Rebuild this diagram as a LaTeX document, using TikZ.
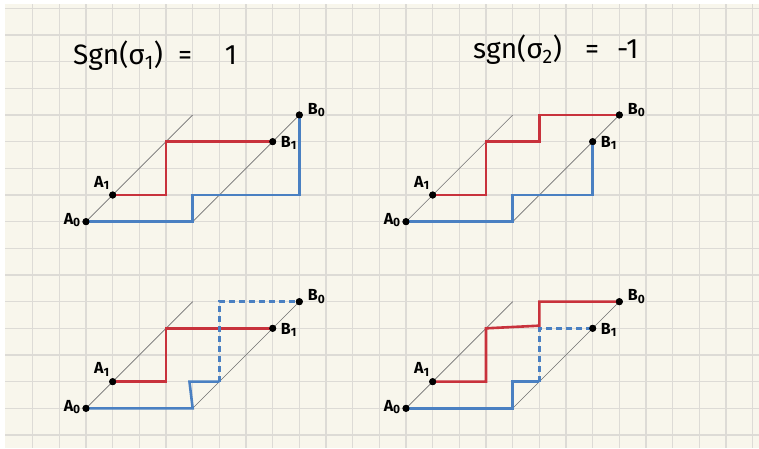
\documentclass[tikz,border=0pt]{standalone}
\usepackage{fontspec}
\setmainfont{Fira Sans}
\definecolor{paper}{HTML}{F8F6EC}
\definecolor{gridc}{HTML}{DDDBD6}
\definecolor{pathred}{HTML}{C8323C}
\definecolor{pathblue}{HTML}{4A80C2}
\definecolor{diag}{HTML}{707070}
\newcommand{\sublab}[1]{\raisebox{-2.5pt}{\fontsize{12}{12}\selectfont #1}}
\tikzset{
  gridline/.style={gridc, line width=1.5pt},
  diagline/.style={diag, line width=0.6pt},
  redpath/.style={pathred, line width=2.6pt, line join=miter},
  bluepath/.style={pathblue, line width=2.6pt, line join=miter},
  bluedash/.style={pathblue, line width=2.4pt, dash pattern=on 6pt off 4pt},
  dotnode/.style={circle, fill=black, inner sep=0pt, minimum size=7pt},
  lab/.style={font=\fontsize{16}{18}\selectfont\bfseries, inner sep=0pt},
  titletext/.style={font=\fontsize{28}{32}\selectfont, inner sep=0pt, anchor=base west}
}
\begin{document}
\begin{tikzpicture}[x=26.667pt,y=-26.667pt]
\useasboundingbox (-0.225,-0.3125) rectangle (28.2375,16.4875);
\fill[paper] (-0.225,-0.3125) rectangle (28.2375,16.4875);
\foreach \i in {1,...,28} \draw[gridline] (\i,-0.3125) -- (\i,16.4875);
\foreach \j in {0,...,16} \draw[gridline] (-0.225,\j) -- (28.2375,\j);
\fill[white] (-0.225,-0.3125) rectangle (28.2375,-0.17);
\fill[white] (-0.225,-0.3125) rectangle (-0.02,16.4875);

% titles
\node[titletext] (t1a) at (2.51,2.125) {Sgn(σ\textsubscript{1})};
\node[titletext] (t1b) at (6.45,2.125) {=};
\node[titletext] (t1c) at (8.2,2.125) {1};
\node[titletext] (t2a) at (17.51,1.875) {sgn(σ\textsubscript{2})};
\node[titletext] (t2b) at (21.71,1.875) {=};
\node[titletext] (t2c) at (22.91,1.875) {-1};

% ---------- diagram 1 ----------
\begin{scope}
\coordinate (d1a) at (3,8); \coordinate (d1b) at (7,4);
\coordinate (d1c) at (7,8); \coordinate (d1d) at (11,4);
\draw[diagline] (d1a) -- (d1b);
\draw[diagline] (d1c) -- (d1d);
\coordinate (r1a) at (6,7); \coordinate (r1b) at (6,5);
\coordinate (b1a) at (7,7); \coordinate (b1b) at (11,7);
\node[dotnode] (A0) at (3,8) {};
\node[dotnode] (A1) at (4,7) {};
\node[dotnode] (B1) at (10,5) {};
\node[dotnode] (B0) at (11,4) {};
\draw[redpath] (A1.center) -- (r1a) -- (r1b) -- (B1.center);
\draw[bluepath] (A0.center) -- (d1c) -- (b1a) -- (b1b) -- (B0.center);
\node[dotnode] at (A1) {}; \node[dotnode] at (B1) {};
\node[dotnode] at (A0) {}; \node[dotnode] at (B0) {};
\node[lab] (lA0) at ([xshift=-14pt,yshift=1.5pt]A0) {A\sublab{0}};
\node[lab] (lA1) at ([xshift=-11pt,yshift=12pt]A1) {A\sublab{1}};
\node[lab] (lB0) at ([xshift=17pt,yshift=5pt]B0) {B\sublab{0}};
\node[lab] (lB1) at ([xshift=16pt,yshift=-1.5pt]B1) {B\sublab{1}};
\end{scope}

% ---------- diagram 2 ----------
\begin{scope}
\coordinate (d2a) at (15,8); \coordinate (d2b) at (19,4);
\coordinate (d2c) at (19,8); \coordinate (d2d) at (23,4);
\draw[diagline] (d2a) -- (d2b);
\draw[diagline] (d2c) -- (d2d);
\coordinate (r2a) at (18,7); \coordinate (r2b) at (18,5);
\coordinate (r2c) at (20,5); \coordinate (r2d) at (20,4);
\coordinate (b2a) at (19,7); \coordinate (b2b) at (22,7);
\node[dotnode] (C0) at (15,8) {};
\node[dotnode] (C1) at (16,7) {};
\node[dotnode] (D1) at (22,5) {};
\node[dotnode] (D0) at (23,4) {};
\draw[redpath] (C1.center) -- (r2a) -- (r2b) -- (r2c) -- (r2d) -- (D0.center);
\draw[bluepath] (C0.center) -- (d2c) -- (b2a) -- (b2b) -- (D1.center);
\node[dotnode] at (C1) {}; \node[dotnode] at (D1) {};
\node[dotnode] at (C0) {}; \node[dotnode] at (D0) {};
\node[lab] (lC0) at ([xshift=-14pt,yshift=1.5pt]C0) {A\sublab{0}};
\node[lab] (lC1) at ([xshift=-11pt,yshift=12pt]C1) {A\sublab{1}};
\node[lab] (lD0) at ([xshift=17pt,yshift=5pt]D0) {B\sublab{0}};
\node[lab] (lD1) at ([xshift=16pt,yshift=-1.5pt]D1) {B\sublab{1}};
\end{scope}

% ---------- diagram 3 ----------
\begin{scope}
\coordinate (d3a) at (3,15); \coordinate (d3b) at (7,11);
\coordinate (d3c) at (7,15); \coordinate (d3d) at (11,11);
\draw[diagline] (d3a) -- (d3b);
\draw[diagline] (d3c) -- (d3d);
\coordinate (r3a) at (6,14); \coordinate (r3b) at (6,12);
\coordinate (b3a) at (6.88,14); \coordinate (b3b) at (8,14);
\coordinate (b3c) at (8,11);
\node[dotnode] (E0) at (3,15) {};
\node[dotnode] (E1) at (4,14) {};
\node[dotnode] (F1) at (10,12) {};
\node[dotnode] (F0) at (11,11) {};
\draw[redpath] (E1.center) -- (r3a) -- (r3b) -- (F1.center);
\draw[bluepath] (E0.center) -- (d3c) -- (b3a) -- (b3b);
\draw[bluedash] (b3b) -- (b3c) -- (F0.center);
\node[dotnode] at (E1) {}; \node[dotnode] at (F1) {};
\node[dotnode] at (E0) {}; \node[dotnode] at (F0) {};
\node[lab] (lE0) at ([xshift=-14pt,yshift=1.5pt]E0) {A\sublab{0}};
\node[lab] (lE1) at ([xshift=-11pt,yshift=12pt]E1) {A\sublab{1}};
\node[lab] (lF0) at ([xshift=17pt,yshift=5pt]F0) {B\sublab{0}};
\node[lab] (lF1) at ([xshift=16pt,yshift=-1.5pt]F1) {B\sublab{1}};
\end{scope}

% ---------- diagram 4 ----------
\begin{scope}
\coordinate (d4a) at (15,15); \coordinate (d4b) at (19,11);
\coordinate (d4c) at (19,15); \coordinate (d4d) at (23,11);
\draw[diagline] (d4a) -- (d4b);
\draw[diagline] (d4c) -- (d4d);
\coordinate (r4a) at (18,14); \coordinate (r4b) at (18,12);
\coordinate (r4c) at (20,11.9); \coordinate (r4d) at (20,11);
\coordinate (b4a) at (19,14); \coordinate (b4b) at (20,14);
\coordinate (b4c) at (20,12);
\node[dotnode] (G0) at (15,15) {};
\node[dotnode] (G1) at (16,14) {};
\node[dotnode] (H1) at (22,12) {};
\node[dotnode] (H0) at (23,11) {};
\draw[bluedash] (b4b) -- (b4c) -- (H1.center);
\draw[redpath] (G1.center) -- (r4a) -- (r4b) -- (r4c) -- (r4d) -- (H0.center);
\draw[bluepath] (G0.center) -- (d4c) -- (b4a) -- (b4b);
\node[dotnode] at (G1) {}; \node[dotnode] at (H1) {};
\node[dotnode] at (G0) {}; \node[dotnode] at (H0) {};
\node[lab] (lG0) at ([xshift=-14pt,yshift=1.5pt]G0) {A\sublab{0}};
\node[lab] (lG1) at ([xshift=-11pt,yshift=12pt]G1) {A\sublab{1}};
\node[lab] (lH0) at ([xshift=17pt,yshift=5pt]H0) {B\sublab{0}};
\node[lab] (lH1) at ([xshift=16pt,yshift=-1.5pt]H1) {B\sublab{1}};
\end{scope}
\end{tikzpicture}
\end{document}
